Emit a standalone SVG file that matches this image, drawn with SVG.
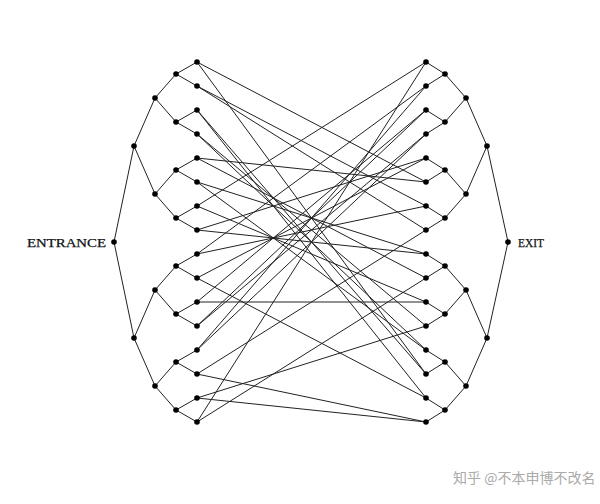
<svg xmlns="http://www.w3.org/2000/svg" width="600" height="504" viewBox="0 0 600 504">
<style>
.e{stroke:#222;stroke-width:1;fill:none}
.n{fill:#000}
.t{font-family:"Liberation Serif",serif;font-size:12px;fill:#111;stroke:#111;stroke-width:0.25}
.w{font-family:"Noto Sans CJK SC",sans-serif;font-size:14px;fill:#aaa}
</style>
<rect width="600" height="504" fill="#fff"/>
<g id="connectors" class="e">
<path d="M114,242L134,146M114,242L134,338M134,146L155,98M134,146L155,194M134,338L155,290M134,338L155,386M155,98L176,74M155,98L176,122M155,194L176,170M155,194L176,218M155,290L176,266M155,290L176,314M155,386L176,362M155,386L176,410M176,74L197,62M176,74L197,86M176,122L197,110M176,122L197,134M176,170L197,158M176,170L197,182M176,218L197,206M176,218L197,230M176,266L197,254M176,266L197,278M176,314L197,302M176,314L197,326M176,362L197,350M176,362L197,374M176,410L197,398M176,410L197,422"/>
<path d="M508,242L487,146M508,242L487,338M487,146L466,98M487,146L466,194M487,338L466,290M487,338L466,386M466,98L445,74M466,98L445,122M466,194L445,170M466,194L445,218M466,290L445,266M466,290L445,314M466,386L445,362M466,386L445,410M445,74L426,62M445,74L426,86M445,122L426,110M445,122L426,134M445,170L426,158M445,170L426,182M445,218L426,206M445,218L426,230M445,266L426,254M445,266L426,278M445,314L426,302M445,314L426,326M445,362L426,350M445,362L426,374M445,410L426,398M445,410L426,422"/>
<path d="M197,62L426,182M197,62L426,374M197,86L426,206M197,86L426,230M197,110L426,374M197,110L426,398M197,134L426,326M197,134L426,350M197,158L426,182M197,158L426,278M197,182L426,254M197,182L426,350M197,206L426,62M197,206L426,302M197,230L426,158M197,230L426,254M197,254L426,86M197,254L426,206M197,278L426,158M197,278L426,398M197,302L426,302M197,302L426,110M197,326L426,110M197,326L426,134M197,350L426,86M197,350L426,134M197,374L426,230M197,374L426,422M197,398L426,326M197,398L426,422M197,422L426,62M197,422L426,278"/>
</g>
<g id="left-tree" class="n">
<circle cx="114" cy="242" r="2.8"/>
<circle cx="134" cy="146" r="2.8"/><circle cx="134" cy="338" r="2.8"/>
<circle cx="155" cy="98" r="2.8"/><circle cx="155" cy="194" r="2.8"/><circle cx="155" cy="290" r="2.8"/><circle cx="155" cy="386" r="2.8"/>
<circle cx="176" cy="74" r="2.8"/><circle cx="176" cy="122" r="2.8"/><circle cx="176" cy="170" r="2.8"/><circle cx="176" cy="218" r="2.8"/><circle cx="176" cy="266" r="2.8"/><circle cx="176" cy="314" r="2.8"/><circle cx="176" cy="362" r="2.8"/><circle cx="176" cy="410" r="2.8"/>
<circle cx="197" cy="62" r="2.8"/><circle cx="197" cy="86" r="2.8"/><circle cx="197" cy="110" r="2.8"/><circle cx="197" cy="134" r="2.8"/><circle cx="197" cy="158" r="2.8"/><circle cx="197" cy="182" r="2.8"/><circle cx="197" cy="206" r="2.8"/><circle cx="197" cy="230" r="2.8"/><circle cx="197" cy="254" r="2.8"/><circle cx="197" cy="278" r="2.8"/><circle cx="197" cy="302" r="2.8"/><circle cx="197" cy="326" r="2.8"/><circle cx="197" cy="350" r="2.8"/><circle cx="197" cy="374" r="2.8"/><circle cx="197" cy="398" r="2.8"/><circle cx="197" cy="422" r="2.8"/>
</g>
<g id="right-tree" class="n">
<circle cx="508" cy="242" r="2.8"/>
<circle cx="487" cy="146" r="2.8"/><circle cx="487" cy="338" r="2.8"/>
<circle cx="466" cy="98" r="2.8"/><circle cx="466" cy="194" r="2.8"/><circle cx="466" cy="290" r="2.8"/><circle cx="466" cy="386" r="2.8"/>
<circle cx="445" cy="74" r="2.8"/><circle cx="445" cy="122" r="2.8"/><circle cx="445" cy="170" r="2.8"/><circle cx="445" cy="218" r="2.8"/><circle cx="445" cy="266" r="2.8"/><circle cx="445" cy="314" r="2.8"/><circle cx="445" cy="362" r="2.8"/><circle cx="445" cy="410" r="2.8"/>
<circle cx="426" cy="62" r="2.8"/><circle cx="426" cy="86" r="2.8"/><circle cx="426" cy="110" r="2.8"/><circle cx="426" cy="134" r="2.8"/><circle cx="426" cy="158" r="2.8"/><circle cx="426" cy="182" r="2.8"/><circle cx="426" cy="206" r="2.8"/><circle cx="426" cy="230" r="2.8"/><circle cx="426" cy="254" r="2.8"/><circle cx="426" cy="278" r="2.8"/><circle cx="426" cy="302" r="2.8"/><circle cx="426" cy="326" r="2.8"/><circle cx="426" cy="350" r="2.8"/><circle cx="426" cy="374" r="2.8"/><circle cx="426" cy="398" r="2.8"/><circle cx="426" cy="422" r="2.8"/>
</g>
<g id="labels">
<text class="t" x="106" y="246.5" text-anchor="end" textLength="79" lengthAdjust="spacingAndGlyphs">ENTRANCE</text>
<text class="t" x="518" y="246.5" textLength="26" lengthAdjust="spacingAndGlyphs">EXIT</text>
<text class="w" x="453" y="483">知乎 @不本申博不改名</text>
</g>
</svg>
